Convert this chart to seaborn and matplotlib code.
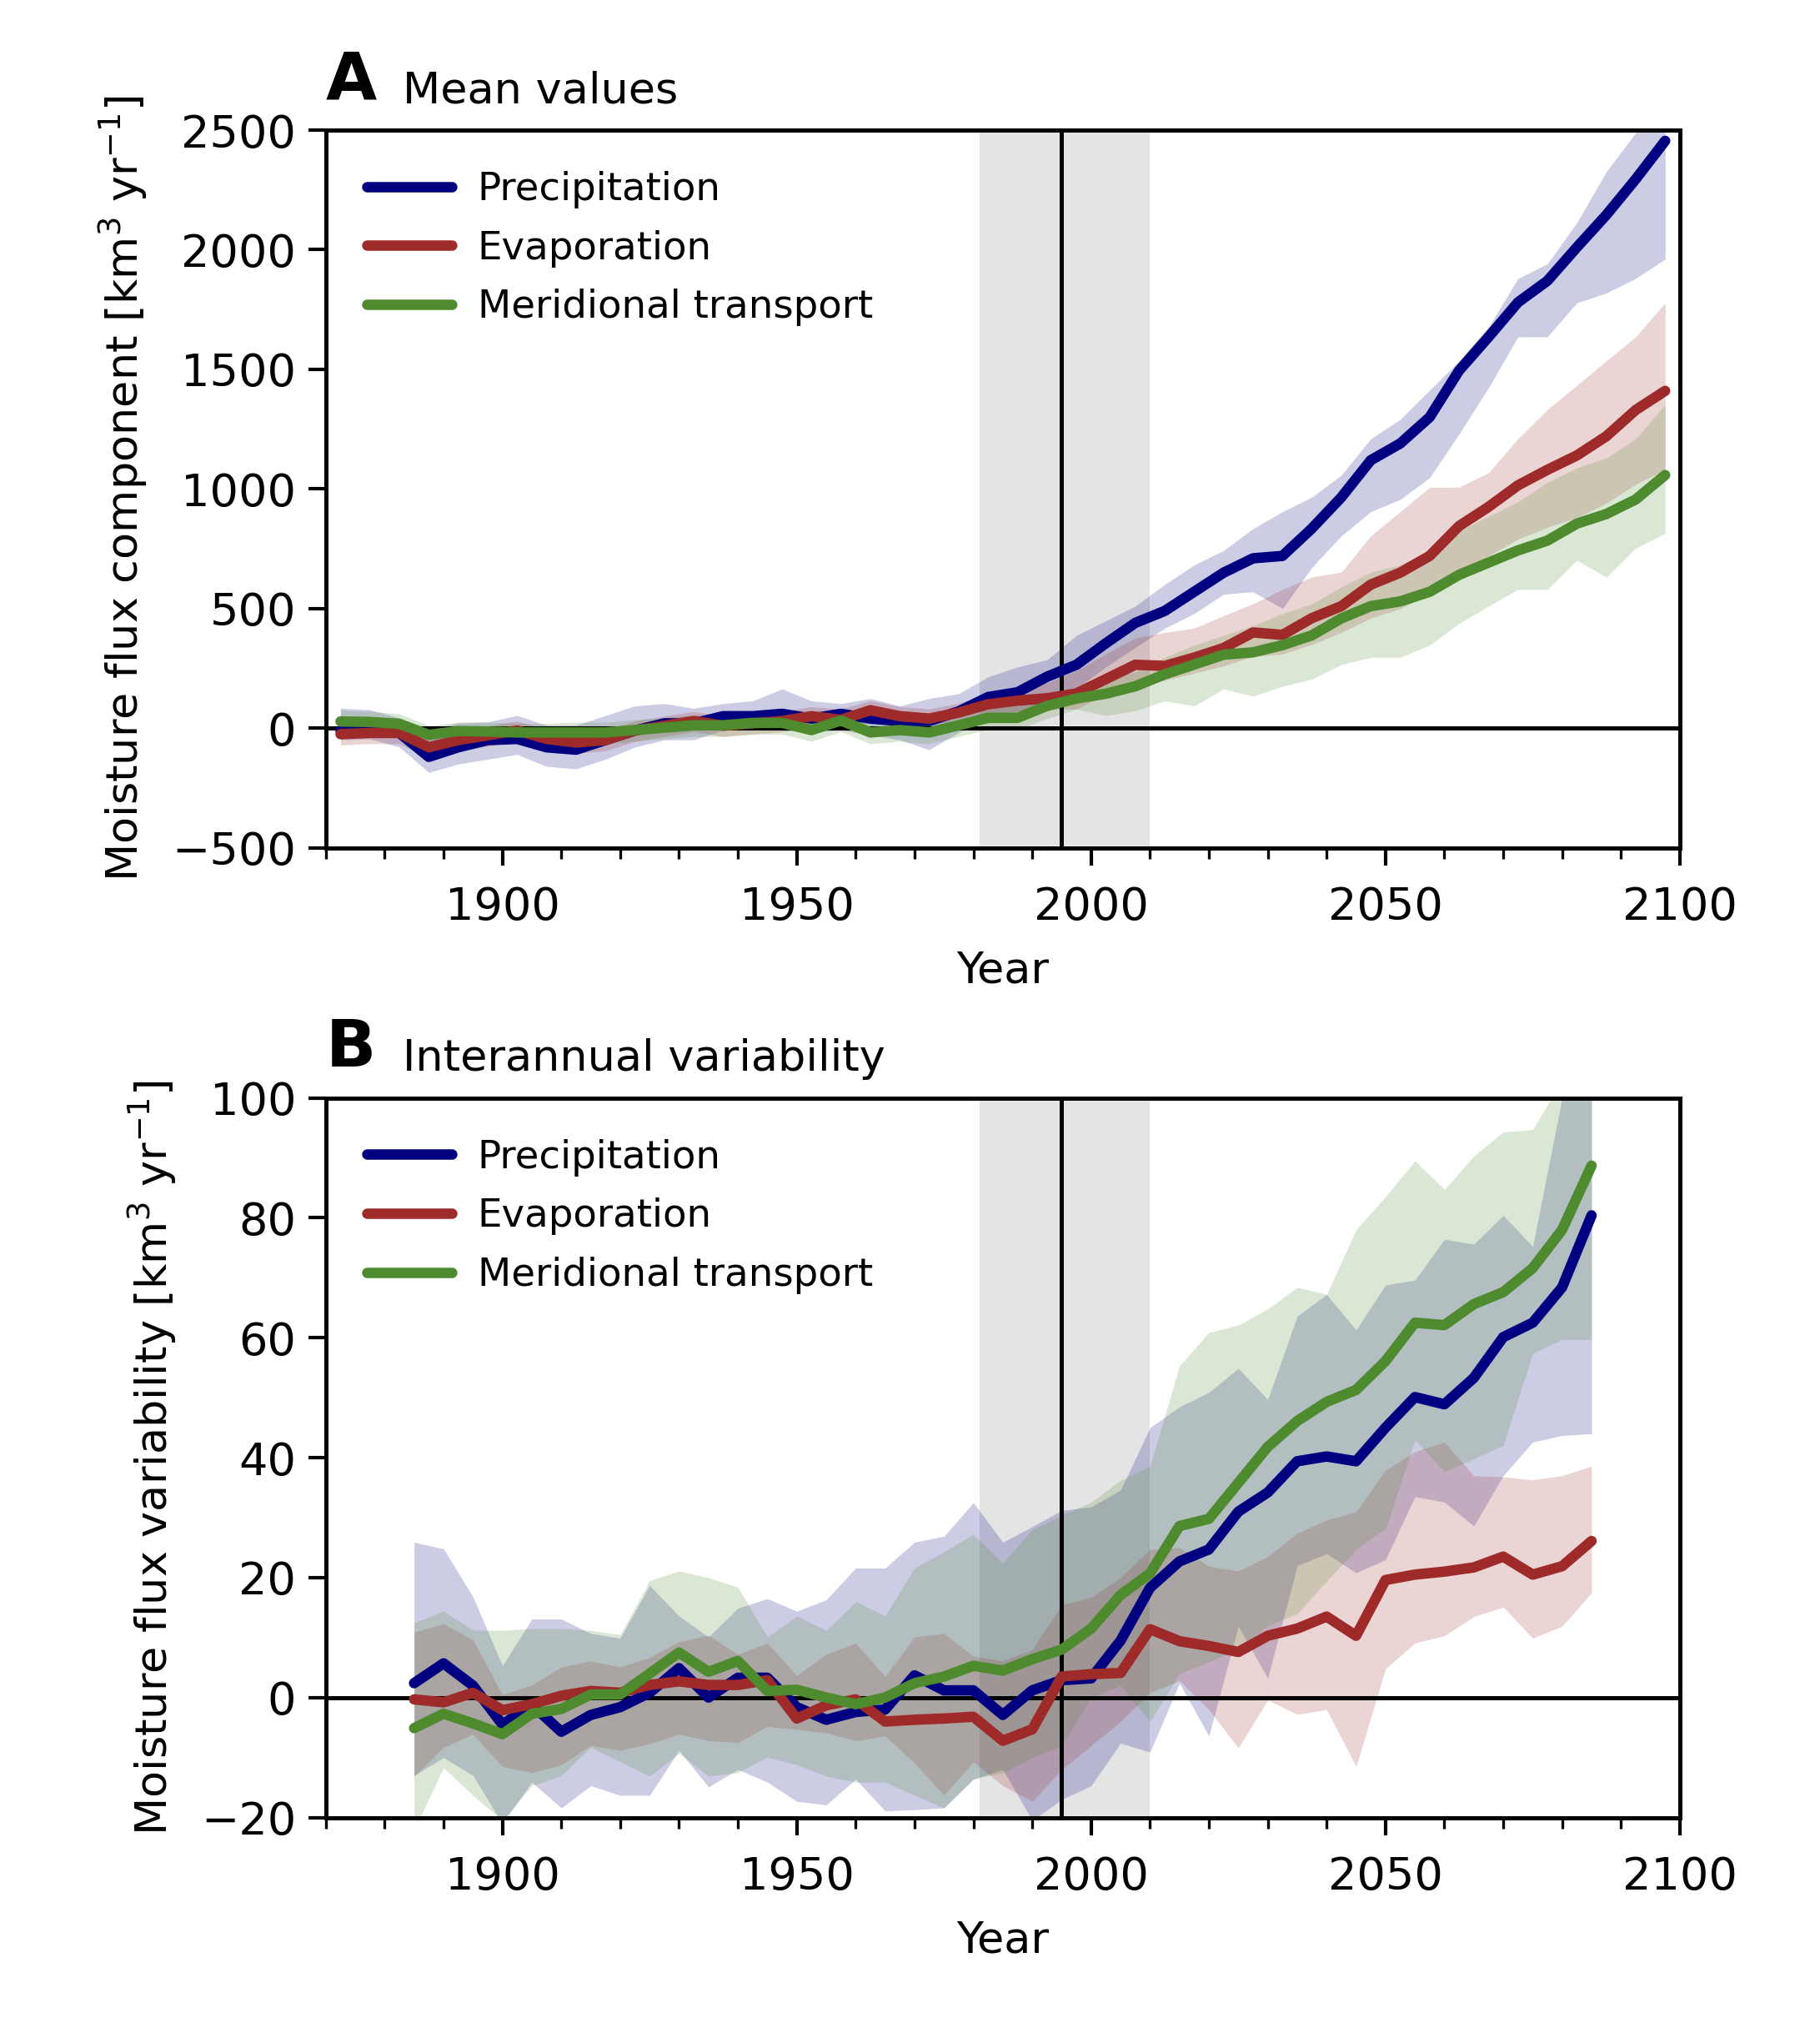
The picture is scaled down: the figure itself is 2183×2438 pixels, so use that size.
import numpy as np
import pandas as pd
import matplotlib
matplotlib.use("Agg")
import matplotlib.pyplot as plt
from matplotlib.ticker import MultipleLocator
import seaborn as sns

# ---- panel A: mean values (5-year steps) ----
years_a = np.arange(1872.5, 2100, 5)

prec_mean = [-10, -10, -20, -120, -80, -50, -45, -80, -90, -50,
             -10, 20, 20, 50, 50, 60, 40, 60, 40, 30,
             30, 70, 130, 150, 215, 265, 355, 440, 490, 570,
             650, 710, 720, 835, 965, 1120, 1190, 1300, 1495, 1635,
             1780, 1870, 2010, 2145, 2295, 2455]
prec_hi = [83, 77, 43, -8, 22, 26, 53, 12, 12, 53,
           93, 103, 83, 103, 114, 164, 114, 103, 124, 93,
           124, 144, 215, 256, 286, 388, 449, 510, 601, 682,
           743, 834, 905, 966, 1058, 1210, 1291, 1413, 1535, 1677,
           1880, 1941, 2113, 2326, 2489, 2590]
prec_lo = [-49, -45, -79, -185, -150, -130, -110, -160, -170, -130,
           -79, -49, -49, -8, -8, -8, -18, -8, -28, -49,
           -90, -18, 43, 63, 114, 165, 256, 337, 418, 479,
           560, 570, 500, 672, 804, 905, 956, 1047, 1230, 1423,
           1636, 1636, 1778, 1819, 1880, 1961]

evap_mean = [-25, -20, -20, -80, -50, -30, -10, -45, -60, -50,
             -10, 10, 30, 10, 20, 30, 50, 35, 75, 50,
             40, 65, 100, 115, 125, 145, 205, 265, 260, 295,
             335, 400, 390, 460, 510, 600, 650, 720, 845, 925,
             1015, 1080, 1140, 1220, 1330, 1410]
evap_hi = [20, 25, 25, -40, -10, 10, 30, -5, -20, -10,
           30, 50, 70, 50, 60, 70, 90, 80, 115, 90,
           80, 105, 140, 160, 190, 240, 310, 377, 400, 418,
           470, 520, 580, 632, 652, 804, 905, 1007, 1007, 1068,
           1210, 1332, 1433, 1535, 1636, 1778]
evap_lo = [-70, -65, -65, -125, -95, -75, -55, -90, -105, -95,
           -55, -35, -15, -35, -25, -15, 5, -10, 30, 5,
           -5, 20, 55, 70, 80, 80, 140, 190, 200, 230,
           260, 300, 310, 350, 400, 460, 500, 560, 650, 720,
           790, 840, 880, 940, 1020, 1080]

merid_mean = [28, 26, 18, -28, -12, -14, -18, -18, -18, -18,
              -8, 2, 12, 12, 22, 22, -8, 32, -18, -8,
              -18, 12, 43, 43, 93, 124, 144, 175, 225, 266,
              307, 317, 347, 388, 459, 510, 530, 570, 641, 692,
              743, 784, 855, 895, 956, 1058]
merid_hi = [75, 70, 60, 10, 25, 25, 20, 20, 25, 25,
            35, 45, 55, 55, 65, 65, 35, 75, 25, 35,
            25, 55, 90, 95, 140, 170, 205, 235, 296, 347,
            388, 428, 479, 520, 590, 652, 682, 743, 824, 885,
            946, 1027, 1088, 1129, 1210, 1352]
merid_lo = [-20, -20, -25, -75, -60, -60, -65, -65, -65, -65,
            -55, -45, -35, -35, -25, -25, -55, -15, -65, -55,
            -65, -35, -5, -5, 40, 80, 53, 73, 114, 93,
            164, 134, 175, 205, 266, 296, 296, 347, 438, 510,
            580, 580, 702, 631, 753, 814]

# ---- panel B: interannual variability ----
years_b = np.arange(1885, 2090, 5)

prec_var = [2.4, 5.7, 2.0, -4.5, -1.2, -5.7, -2.9, -1.6, 0.8, 4.9,
            0.0, 3.3, 3.3, -1.6, -3.7, -2.4, -2.0, 3.7, 1.2, 1.2,
            -2.9, 1.2, 2.9, 3.2, 9.5, 18.3, 22.7, 24.7, 31.0, 34.2,
            39.4, 40.2, 39.4, 45.0, 50.1, 48.9, 53.3, 60.1, 62.5, 68.4,
            80.4]
prec_var_hi = [25.9, 24.8, 16.8, 5.3, 13.1, 13.1, 10.7, 9.9, 18.7, 13.6,
               10.1, 14.9, 16.5, 14.4, 16.3, 21.6, 21.6, 25.9, 26.9, 32.5,
               25.9, 28.5, 31.2, 31.8, 34.6, 45.0, 48.5, 50.9, 54.9, 49.7,
               63.6, 67.2, 61.3, 68.8, 69.6, 76.4, 75.6, 80.4, 75.2, 100.0,
               103.0]
prec_var_lo = [-13.0, -10.0, -13.0, -21.0, -14.1, -18.4, -14.7, -16.3, -16.3, -8.8,
               -14.9, -12.0, -14.1, -17.3, -17.9, -13.6, -18.9, -18.7, -18.4, -13.6,
               -12.0, -20.5, -17.0, -14.7, -7.6, -9.1, 2.4, -6.4, 11.9, 3.2,
               22.0, 24.0, 20.8, 23.0, 33.5, 32.6, 28.6, 37.0, 42.6, 43.7,
               44.0]

evap_var = [-0.3, -0.8, 0.8, -2.1, -1.1, 0.3, 1.1, 0.8, 2.1, 2.7,
            2.1, 2.1, 2.9, -3.5, -1.3, -0.3, -4.0, -3.7, -3.5, -3.2,
            -7.2, -5.3, 3.5, 3.9, 4.1, 11.4, 9.4, 8.6, 7.6, 10.3,
            11.5, 13.5, 10.3, 19.6, 20.5, 21.0, 21.7, 23.5, 20.5, 21.9,
            26.1]
evap_var_hi = [10.9, 12.3, 9.6, 0.5, 2.1, 5.1, 6.1, 5.1, 6.7, 9.3,
               10.4, 7.2, 9.1, 3.7, 7.2, 9.1, 3.5, 10.1, 10.7, 6.9,
               6.1, 8.0, 15.5, 16.7, 20.0, 24.7, 25.0, 21.9, 21.1, 23.5,
               27.4, 29.6, 31.0, 37.9, 41.0, 42.6, 37.0, 36.8, 36.3, 37.0,
               38.6]
evap_var_lo = [-13.1, -8.3, -6.1, -11.5, -12.5, -11.2, -8.0, -8.8, -7.7, -6.1,
               -7.2, -7.5, -4.8, -5.3, -5.9, -7.2, -6.4, -10.9, -16.3, -10.7,
               -14.7, -17.3, -12.0, -8.0, -4.0, 0.8, 2.8, -2.0, -8.4, -0.4,
               -2.8, -2.0, -11.5, 4.8, 9.1, 10.3, 13.5, 15.1, 9.9, 11.9,
               17.5]

merid_var = [-5.1, -2.7, -4.3, -6.1, -2.7, -1.9, 0.5, 0.5, 4.0, 7.5,
             4.3, 6.1, 1.1, 1.3, 0.0, -1.1, 0.0, 2.4, 3.5, 5.3,
             4.5, 6.4, 8.0, 11.5, 17.1, 20.7, 28.6, 29.8, 35.8, 41.8,
             46.1, 49.3, 51.3, 56.1, 62.5, 62.1, 65.6, 67.6, 71.6, 78.0,
             88.7]
merid_var_hi = [12.5, 14.4, 11.2, 11.2, 11.5, 11.5, 11.2, 10.5, 19.5, 21.1,
                20.0, 18.4, 10.1, 13.6, 11.2, 16.0, 13.6, 21.6, 24.3, 27.2,
                22.4, 28.0, 30.4, 32.6, 36.2, 38.6, 55.3, 60.9, 62.1, 64.8,
                68.4, 67.2, 78.0, 83.5, 89.5, 84.7, 90.3, 94.3, 94.7, 103.0,
                103.0]
merid_var_lo = [-22.0, -11.7, -16.3, -20.5, -14.7, -13.0, -8.3, -10.7, -13.1, -9.3,
                -13.1, -12.5, -9.9, -11.2, -13.1, -14.1, -14.1, -16.3, -18.4, -13.6,
                -12.5, -10.0, -8.0, 0.0, 2.0, -4.0, 4.0, 6.0, 8.0, 12.0,
                14.0, 19.4, 24.7, 28.2, 43.0, 37.7, 39.8, 42.1, 57.4, 59.7,
                59.7]

components = ['Precipitation', 'Evaporation', 'Meridional transport']
colors = {'Precipitation': '#000080',
          'Evaporation': '#9e2a2a',
          'Meridional transport': '#4e8a2e'}

sns.set_theme(style="ticks")
plt.rcParams['font.family'] = ['DejaVu Sans']
plt.rcParams['text.color'] = 'black'
plt.rcParams['axes.edgecolor'] = 'black'
plt.rcParams['xtick.color'] = 'black'
plt.rcParams['ytick.color'] = 'black'
plt.rcParams['axes.labelcolor'] = 'black'


def make_frame(years, series):
    rows = []
    for name, (mean, lo, hi) in zip(components, series):
        for y, m, l, h in zip(years, mean, lo, hi):
            rows.append({'year': y, 'value': m, 'lo': l, 'hi': h, 'component': name})
    return pd.DataFrame(rows)


def draw_panel(ax, df, letter, title, ylabel, ylim, yticks):
    ax.axvspan(1981, 2010, color='#e4e4e4', zorder=0, lw=0)
    for name in components:
        sub = df[df['component'] == name]
        ax.fill_between(sub['year'], sub['lo'], sub['hi'],
                        color=colors[name], alpha=0.2, lw=0, zorder=1)
    sns.lineplot(data=df, x='year', y='value', hue='component',
                 hue_order=components, palette=colors, lw=3.0, ax=ax, zorder=3)
    ax.axhline(0, color='black', lw=1.2, zorder=2)
    ax.axvline(1995, color='black', lw=1.2, zorder=2)
    ax.set_xlim(1870, 2100)
    ax.set_ylim(*ylim)
    ax.set_yticks(yticks)
    ax.xaxis.set_major_locator(MultipleLocator(50))
    ax.xaxis.set_minor_locator(MultipleLocator(10))
    ax.tick_params(axis='both', which='major', labelsize=13, length=5, width=1.0)
    ax.tick_params(axis='x', which='major', pad=6)
    ax.tick_params(axis='x', which='minor', length=3, width=0.8)
    for sp in ax.spines.values():
        sp.set_linewidth(1.2)
    ax.set_xlabel('Year', fontsize=12.6, labelpad=6)
    ax.set_ylabel(ylabel, fontsize=12.6, labelpad=6.5)
    ax.legend(frameon=False, loc='upper left', fontsize=11.2,
              handlelength=2.2, handletextpad=0.65, borderaxespad=0.65,
              labelspacing=0.55)
    ax.text(0.0, 1.025, letter, transform=ax.transAxes, fontsize=19,
            fontweight='bold', ha='left', va='bottom')
    ax.text(0.057, 1.025, title, transform=ax.transAxes, fontsize=12.6,
            ha='left', va='bottom')


fig = plt.figure(figsize=(2183 / 300, 2438 / 300), dpi=300)
ax_a = fig.add_axes([0.179, 0.583, 0.744, 0.353])
ax_b = fig.add_axes([0.179, 0.106, 0.744, 0.354])

df_a = make_frame(years_a, [(prec_mean, prec_lo, prec_hi),
                            (evap_mean, evap_lo, evap_hi),
                            (merid_mean, merid_lo, merid_hi)])
df_b = make_frame(years_b, [(prec_var, prec_var_lo, prec_var_hi),
                            (evap_var, evap_var_lo, evap_var_hi),
                            (merid_var, merid_var_lo, merid_var_hi)])

draw_panel(ax_a, df_a, 'A', 'Mean values',
           'Moisture flux component [km$^3$ yr$^{-1}$]',
           (-500, 2500), np.arange(-500, 2501, 500))
draw_panel(ax_b, df_b, 'B', 'Interannual variability',
           'Moisture flux variability [km$^3$ yr$^{-1}$]',
           (-20, 100), np.arange(-20, 101, 20))

fig.savefig('out.png', dpi=300)
